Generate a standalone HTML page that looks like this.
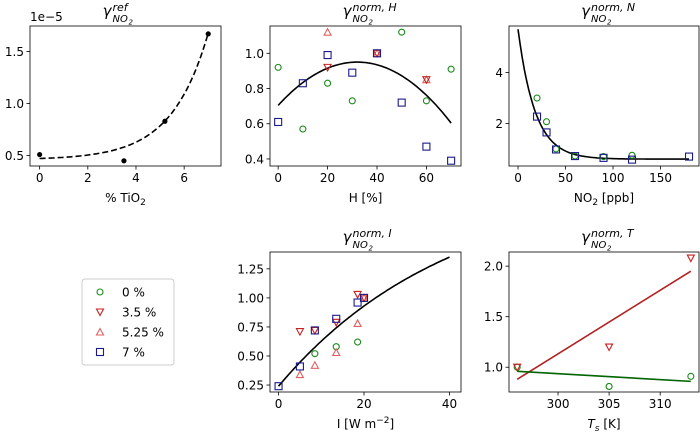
<!DOCTYPE html>
<html><head><meta charset="utf-8"><style>
body{margin:0;background:#fff}
svg{font-family:"DejaVu Sans","Liberation Sans",sans-serif}
</style></head><body>
<svg id="c" width="700" height="440" viewBox="0 0 700 440" xmlns="http://www.w3.org/2000/svg"></svg>
<script>
// ---- data ----
const refX = [0, 3.5, 5.2, 7];
const refY = [0.51, 0.45, 0.83, 1.67];
const hX = [0, 10, 20, 30, 40, 50, 60, 70];
const hGreen = [0.92, 0.57, 0.83, 0.73, null, 1.12, 0.73, 0.91];
const hBlue = [0.61, 0.83, 0.99, 0.89, 1.0, 0.72, 0.47, 0.39];
const hRed = [null, null, 0.92, null, 1.0, null, 0.85, null];
const hPink = [null, null, 1.12, null, 1.0, null, 0.85, null];
const nX = [20, 30, 40, 60, 90, 120, 180];
const nGreen = [3.0, 2.07, 1.0, 0.72, 0.7, 0.75, null];
const nBlue = [2.27, 1.65, 0.98, 0.72, 0.65, 0.58, 0.7];
const iX = [0, 5, 8.5, 13.5, 18.5, 20];
const iGreen = [null, null, 0.52, 0.58, 0.62, null];
const iBlue = [0.24, 0.41, 0.72, 0.82, 0.96, 1.0];
const iRed = [null, 0.71, 0.72, 0.79, 1.03, 1.0];
const iPink = [null, 0.34, 0.42, 0.53, 0.78, 1.0];
const tX = [296, 305, 313];
const tRed = [1.0, 1.2, 2.08];
const tGreen = [1.0, 0.81, 0.91];
const tRedLine = [0.88, 1.95];
const tGreenLine = [0.96, 0.86];

const NS = "http://www.w3.org/2000/svg";
const svg = document.getElementById('c');
function el(tag, attrs, parent) {
  const e = document.createElementNS(NS, tag);
  for (const k in attrs) e.setAttribute(k, attrs[k]);
  (parent || svg).appendChild(e);
  return e;
}
const GREEN = "#1a8a1a", BLUE = "#1a1a8c", RED = "#c82020", PINK = "#e06060";
let clipN = 0;

function panel(name, box, xd, yd, xt, yt, xlab, sup, fmt) {
  const g = el('g', {});
  
  
  const sx = v => box.x + (v - xd[0]) / (xd[1] - xd[0]) * box.w;
  const sy = v => box.y + box.h - (v - yd[0]) / (yd[1] - yd[0]) * box.h;
  xt.forEach(t => {
    const x = sx(t);
    el('line', {x1: x, x2: x, y1: box.y + box.h, y2: box.y + box.h + 3.5, stroke: '#000', 'stroke-width': 0.8}, g);
    const tx = el('text', {x: x, y: box.y + box.h + 16, 'font-size': 12, 'text-anchor': 'middle'}, g);
    
    
    tx.textContent = String(t);
  });
  yt.forEach(t => {
    const y = sy(t);
    el('line', {x1: box.x, x2: box.x - 3.5, y1: y, y2: y, stroke: '#000', 'stroke-width': 0.8}, g);
    const tx = el('text', {x: box.x - 6, y: y + 4.5, 'font-size': 12, 'text-anchor': 'end'}, g);
    
    
    tx.textContent = fmt(t);
  });
  const xl = el('text', {x: box.x + box.w / 2, y: box.y + box.h + 36, 'font-size': 12, 'text-anchor': 'middle'}, g);
  
  
  xl.innerHTML = xlab;
  const cx = box.x + box.w / 2;
  const tg = el('g', {'font-style': 'italic'}, g);
  
  
  const t1 = el('text', {x: cx - 14, y: box.y - 10, 'font-size': 15, 'text-anchor': 'end'}, tg);
  t1.textContent = 'γ';
  const t2 = el('text', {x: cx - 13, y: box.y - 4, 'font-size': 10}, tg);
  t2.textContent = 'NO';
  const t3 = el('text', {x: cx + 3, y: box.y - 1.5, 'font-size': 7}, tg);
  t3.textContent = '2';
  const t4 = el('text', {x: cx - 13, y: box.y - 15, 'font-size': 11}, tg);
  t4.textContent = sup;
  const frame = el('rect', {x: box.x, y: box.y, width: box.w, height: box.h, fill: 'none', stroke: '#000', 'stroke-width': 0.8}, g);
  
  
  const id = 'clip' + (clipN++);
  const cp = el('clipPath', {id}, g);
  el('rect', {x: box.x, y: box.y, width: box.w, height: box.h}, cp);
  const inner = el('g', {'clip-path': `url(#${id})`}, g);
  return {g: inner, sx, sy};
}
function curve(p, f, x0, x1, attrs) {
  let d = '';
  for (let i = 0; i <= 80; i++) {
    const x = x0 + (x1 - x0) * i / 80;
    d += (i ? 'L' : 'M') + p.sx(x).toFixed(1) + ',' + p.sy(f(x)).toFixed(1);
  }
  const e = el('path', Object.assign({d, fill: 'none'}, attrs), p.g);
  
  
}
function marker(parent, kind, x, y) {
  let e;
  if (kind === 'o') e = el('circle', {cx: x, cy: y, r: 3, fill: 'none', stroke: GREEN, 'stroke-width': 1.1}, parent);
  else if (kind === 's') e = el('rect', {x: x - 3.5, y: y - 3.5, width: 7, height: 7, fill: 'none', stroke: BLUE, 'stroke-width': 1.1}, parent);
  else if (kind === 'v') e = el('path', {d: `M${x-3.5},${y-3}L${x+3.5},${y-3}L${x},${y+3.5}Z`, fill: 'none', stroke: RED, 'stroke-width': 1.1}, parent);
  else if (kind === '^') e = el('path', {d: `M${x-3.5},${y+3}L${x+3.5},${y+3}L${x},${y-3.5}Z`, fill: 'none', stroke: PINK, 'stroke-width': 1.1}, parent);
  else e = el('circle', {cx: x, cy: y, r: 2.6, fill: '#000'}, parent);
  return e;
}
function scatter(p, xs, ys, kind, name) {
  xs.forEach((x, i) => {
    if (ys[i] == null) return;
    const m = marker(p.g, kind, p.sx(x), p.sy(ys[i]));
    
    
  });
}
const f1 = v => v.toFixed(1), f2 = v => v.toFixed(2), f0 = v => String(v);

// Panel 1
const p1 = panel('panel-ref', {x: 30, y: 26, w: 191, h: 140}, [-0.4, 7.53], [0.40, 1.746], [0,2,4,6], [0.5,1.0,1.5], '% TiO<tspan font-size="9" dy="3">2</tspan>', 'ref', f1);
const sci = el('text', {x: 30, y: 21, 'font-size': 12});


sci.textContent = '1e−5';
curve(p1, x => 0.46 + 0.01216 * Math.exp(0.658 * x), 0, 7, {stroke: '#000', 'stroke-width': 1.6, 'stroke-dasharray': '6,3'});
scatter(p1, refX, refY, 'dot', 'ref-point');

// Panel 2
const p2 = panel('panel-humidity', {x: 270, y: 26, w: 191, h: 140}, [-3.3, 74.0], [0.36, 1.155], [0,20,40,60], [0.4,0.6,0.8,1.0], 'H [%]', 'norm, H', f1);
curve(p2, x => 0.95 - 2.4e-4 * (x - 32) * (x - 32), 0, 70, {stroke: '#000', 'stroke-width': 1.6});
scatter(p2, hX, hGreen, 'o', 'h-point-0pct');
scatter(p2, hX, hPink, '^', 'h-point-5.25pct');
scatter(p2, hX, hRed, 'v', 'h-point-3.5pct');
scatter(p2, hX, hBlue, 's', 'h-point-7pct');

// Panel 3
const p3 = panel('panel-no2', {x: 509, y: 26, w: 190, h: 140}, [-9.5, 190.5], [0.33, 5.83], [0,50,100,150], [2,4], 'NO<tspan font-size="9" dy="3">2</tspan><tspan dy="-3"> [ppb]</tspan>', 'norm, N', f0);
curve(p3, x => 0.6 + 5.1 * Math.exp(-x / 18), 0, 180, {stroke: '#000', 'stroke-width': 1.6});
scatter(p3, nX, nGreen, 'o', 'n-point-0pct');
scatter(p3, nX, nBlue, 's', 'n-point-7pct');

// Panel 4
const p4 = panel('panel-irradiance', {x: 270, y: 252, w: 191, h: 140}, [-2.0, 42.7], [0.19, 1.395], [0,20,40], [0.25,0.5,0.75,1.0,1.25], 'I [W m<tspan font-size="9" dy="-5">−2</tspan><tspan dy="5">]</tspan>', 'norm, I', f2);
curve(p4, x => 0.24 + 1.77 * (1 - Math.exp(-x / 40.5)), 0, 40, {stroke: '#000', 'stroke-width': 1.6});
scatter(p4, iX, iGreen, 'o', 'i-point-0pct');
scatter(p4, iX, iPink, '^', 'i-point-5.25pct');
scatter(p4, iX, iRed, 'v', 'i-point-3.5pct');
scatter(p4, iX, iBlue, 's', 'i-point-7pct');

// Panel 5
const p5 = panel('panel-temperature', {x: 509, y: 252, w: 190, h: 140}, [295.2, 313.8], [0.755, 2.14], [300,305,310], [1.0,1.5,2.0], '<tspan font-style="italic">T</tspan><tspan font-size="9" dy="3" font-style="italic">s</tspan><tspan dy="-3"> [K]</tspan>', 'norm, T', f1);
const rl = el('line', {x1: p5.sx(tX[0]), y1: p5.sy(tRedLine[0]), x2: p5.sx(tX[2]), y2: p5.sy(tRedLine[1]), stroke: '#b22222', 'stroke-width': 1.6}, p5.g);


const gl = el('line', {x1: p5.sx(tX[0]), y1: p5.sy(tGreenLine[0]), x2: p5.sx(tX[2]), y2: p5.sy(tGreenLine[1]), stroke: '#006400', 'stroke-width': 1.6}, p5.g);


scatter(p5, tX, tGreen, 'o', 't-point-0pct');
scatter(p5, tX, tRed, 'v', 't-point-3.5pct');

// Legend
const lg = el('g', {});


el('rect', {x: 82, y: 279, width: 92, height: 86, rx: 3, fill: '#fff', stroke: '#ccc', 'stroke-width': 1}, lg);
const legLabels = ['0 %', '3.5 %', '5.25 %', '7 %'];
const legKinds = ['o', 'v', '^', 's'];
legLabels.forEach((lab, i) => {
  const y = 292 + i * 20;
  const item = el('g', {}, lg);
  
  
  marker(item, legKinds[i], 100, y);
  const t = el('text', {x: 122, y: y + 4.5, 'font-size': 12}, item);
  t.textContent = lab;
});
</script>
</body></html>
